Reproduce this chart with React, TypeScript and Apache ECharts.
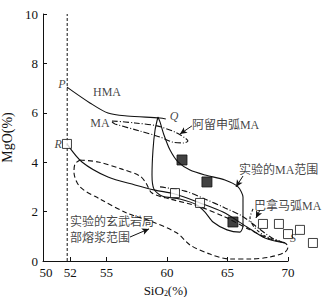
import React, { useEffect, useRef } from "react";
import * as echarts from "echarts";

// Axis ticks / labels
const xLabelValues = [50, 52, 55, 60, 65, 70];
const xTickValues = [52, 55, 60, 65, 70];
const refLineX = 51.75;

// Boundary P–Q (HMA / MA)
const boundaryPQ: number[][] = [
  [51.73, 7.04], [53.63, 6.4], [55.12, 5.99], [56.69, 5.87], [59.42, 5.79], [59.9, 5.75],
];
// Aleutian arc MA field (dash-dot)
const aleutianMA: number[][] = [
  [55.45, 5.67], [57.35, 5.59], [59.17, 5.47], [60.66, 5.22], [61.49, 4.98], [61.73, 4.86],
  [61.4, 4.78], [60.41, 4.82], [59.42, 5.02], [57.77, 5.26], [55.7, 5.55], [55.45, 5.63],
];
// Experimental MA range (closed solid curve)
const experimentalMA: number[][] = [
  [59.25, 5.83], [59.42, 5.63], [59.75, 5.1], [60.25, 4.49], [60.91, 4.01], [61.9, 3.68],
  [63.14, 3.48], [64.79, 3.28], [65.87, 3.0], [66.28, 2.59], [66.28, 1.42], [66.03, 1.17],
  [64.96, 1.26], [63.8, 1.58], [63.14, 1.98], [62.48, 2.27], [61.07, 2.51], [59.58, 2.63],
  [58.92, 2.91], [58.76, 3.48], [58.84, 4.49], [59.01, 5.3], [59.25, 5.83],
];
// Boundary R–S (MA lower limit)
const boundaryRS: number[][] = [
  [51.73, 4.74], [52.97, 4.01], [55.12, 3.4], [57.35, 3.08], [59.01, 2.87], [60.66, 2.71],
  [62.73, 2.35], [64.63, 1.98], [66.61, 1.38], [68.1, 0.93], [69.75, 0.73],
];
// Panama arc MA (dash-dot)
const panamaMA: number[][] = [
  [59.42, 3.0], [61.49, 2.83], [63.14, 2.51], [64.79, 2.15], [66.2, 1.82], [67.52, 1.34],
  [68.68, 0.93], [69.75, 0.73],
];
const panamaHook: number[][] = [
  [67.11, 2.11], [66.86, 1.74], [67.19, 1.38], [68.1, 1.01], [69.75, 0.73],
];
// Experimental basalt partial melt range (dashed closed curve)
const basaltMelt: number[][] = [
  [52.81, 4.09], [54.3, 4.01], [56.28, 3.72], [57.77, 3.44], [58.26, 3.16], [58.76, 2.75],
  [60.25, 2.51], [62.73, 2.19], [64.79, 1.78], [66.86, 1.26], [68.51, 0.89], [69.75, 0.73],
  [70.0, 0.57], [69.75, 0.36], [68.51, 0.16], [66.86, 0.08], [65.2, 0.08], [63.55, 0.28],
  [61.9, 0.65], [60.83, 1.13], [58.84, 1.58], [56.69, 1.94], [54.46, 2.51], [52.81, 3.0],
  [52.31, 3.6], [52.4, 3.93], [52.81, 4.09],
];
// Samples
const openSquares: number[][] = [
  [51.73, 4.74], [60.66, 2.75], [62.73, 2.35], [67.93, 1.5], [69.25, 1.5], [70.0, 1.09],
  [70.99, 1.26], [72.06, 0.73],
];
const filledSquares: number[][] = [
  [61.24, 4.09], [63.3, 3.2], [65.45, 1.58],
];

// Annotations
const noteTexts = ["P", "HMA", "Q", "MA", "R", "S", "阿留申弧MA", "实验的MA范围", "巴拿马弧MA", "实验的玄武岩局", "部熔浆范围"];
const noteX = [51.32, 55.04, 60.58, 54.46, 51.0, 70.41, 62.06, 65.95, 67.19, 51.98, 51.98];
const noteY = [7.17, 6.84, 5.87, 5.59, 4.74, 0.93, 5.51, 3.68, 2.23, 1.58, 0.93];
const noteLeft = [false, false, false, false, false, false, true, true, true, true, true];
const noteItalic = [true, false, true, false, true, true, false, false, false, false, false];

// Arrows
const arrowFrom: number[][] = [[62.06, 5.47], [66.28, 3.44], [67.68, 2.06], [56.94, 0.97]];
const arrowTo: number[][] = [[61.07, 5.14], [65.7, 3.0], [67.35, 1.74], [58.51, 1.3]];

const INK = "#111";
const FONT = "'Liberation Serif', 'Noto Sans CJK SC', serif";

function curve(data: number[][], type: any, smooth = 0.3) {
  return {
    type: "line",
    data,
    symbol: "none",
    showSymbol: false,
    smooth,
    silent: true,
    lineStyle: { color: INK, width: 1.1, type },
    z: 2,
  };
}

export default function App() {
  const ref = useRef<HTMLDivElement>(null);
  useEffect(() => {
    if (!ref.current) return;
    const chart = echarts.init(ref.current, undefined, { renderer: "svg" });
    const notes = noteTexts.map((t, i) => ({
      value: [noteX[i], noteY[i]],
      label: {
        show: true,
        formatter: t,
        position: noteLeft[i] ? "right" : "inside",
        distance: 0,
        fontStyle: noteItalic[i] ? "italic" : "normal",
      },
    }));
    chart.setOption({
      animation: false,
      grid: { left: 43, right: 44, top: 14, bottom: 36, containLabel: false, outerBoundsMode: "none" },
      xAxis: {
        type: "value",
        min: 49.75,
        max: 70,
        name: "{a|SiO}{b|2}{a|(%)}",
        nameLocation: "middle",
        nameGap: 20,
        nameTextStyle: {
          rich: {
            a: { fontFamily: FONT, fontSize: 13, color: INK },
            b: { fontFamily: FONT, fontSize: 8, color: INK, padding: [6, 0, 0, 0] },
          },
        },
        axisLine: { show: true, lineStyle: { color: INK, width: 1 } },
        axisTick: { show: true, inside: true, length: 4, customValues: xTickValues, lineStyle: { color: INK } },
        axisLabel: { customValues: xLabelValues, fontFamily: FONT, fontSize: 13, color: INK, margin: 5 },
        splitLine: { show: false },
      },
      yAxis: {
        type: "value",
        min: 0,
        max: 10,
        interval: 2,
        name: "MgO(%)",
        nameLocation: "middle",
        nameGap: 27,
        nameTextStyle: { fontFamily: FONT, fontSize: 14, color: INK },
        axisLine: { show: true, lineStyle: { color: INK, width: 1 } },
        axisTick: { show: true, inside: true, length: 4, lineStyle: { color: INK } },
        axisLabel: { fontFamily: FONT, fontSize: 13, color: INK, margin: 5 },
        splitLine: { show: false },
      },
      series: [
        {
          type: "line",
          data: [[refLineX, 0], [refLineX, 10]],
          symbol: "none",
          silent: true,
          lineStyle: { color: INK, width: 1, type: [3, 2] },
        },
        curve(boundaryPQ, "solid"),
        curve(aleutianMA, [6, 2, 1, 2]),
        curve(experimentalMA, "solid", 0.25),
        curve(boundaryRS, "solid"),
        curve(panamaMA, [6, 2, 1, 2]),
        curve(panamaHook, [3, 2, 1, 2]),
        curve(basaltMelt, [5, 3]),
        {
          type: "scatter",
          data: openSquares,
          symbol: "rect",
          symbolSize: 9,
          clip: false,
          silent: true,
          itemStyle: { color: "#fff", borderColor: INK, borderWidth: 1 },
          z: 5,
        },
        {
          type: "scatter",
          data: filledSquares,
          symbol: "rect",
          symbolSize: 10,
          clip: false,
          silent: true,
          itemStyle: { color: "#111", borderColor: INK, borderWidth: 1 },
          z: 5,
        },
        {
          type: "scatter",
          data: notes,
          symbolSize: 0,
          clip: false,
          silent: true,
          label: { fontFamily: FONT, fontSize: 12, color: INK },
          z: 6,
          markLine: {
            silent: true,
            symbol: ["none", "arrow"],
            symbolSize: [5, 7],
            label: { show: false },
            lineStyle: { color: INK, width: 1, type: "solid" },
            data: arrowFrom.map((f, i) => [
              { coord: f },
              { coord: arrowTo[i] },
            ]),
          },
        },
      ],
    });
    return () => chart.dispose();
  }, []);
  return <div ref={ref} style={{ width: 332, height: 297, position: "absolute", left: 0, top: 0 }} />;
}
